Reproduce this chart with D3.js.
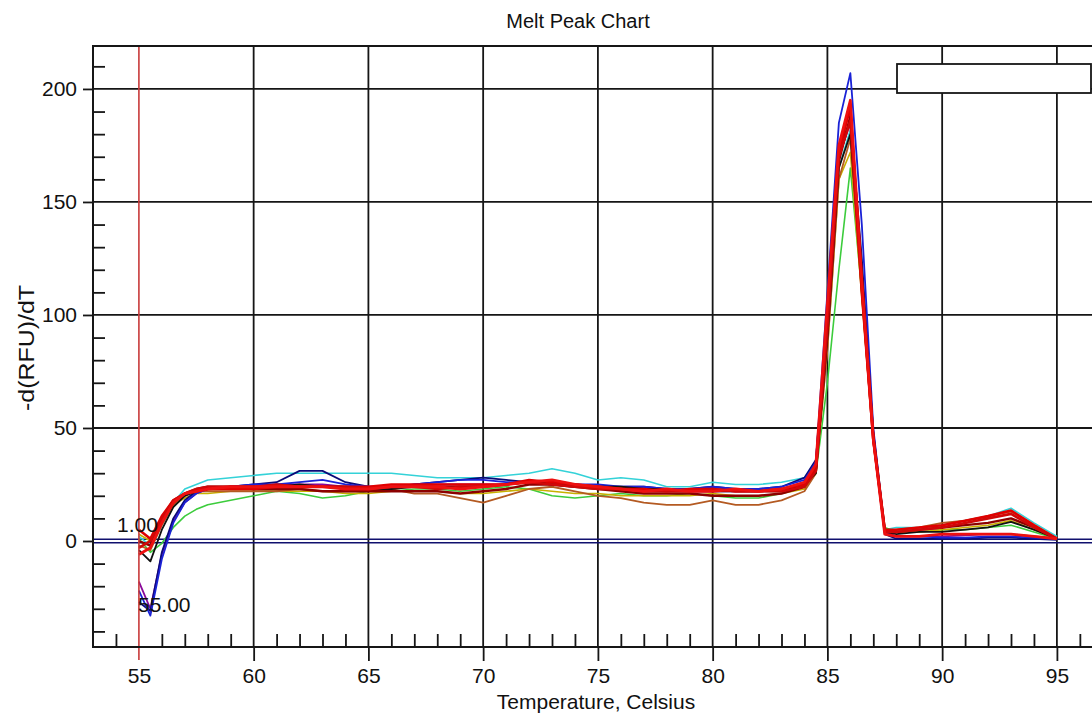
<!DOCTYPE html>
<html><head><meta charset="utf-8">
<script src="https://cdn.jsdelivr.net/npm/d3@7"></script>
<style>
html,body{margin:0;padding:0;background:#fff;}
svg{display:block;}
text{font-family:"Liberation Sans",Arial,sans-serif;fill:#111;}
</style></head><body>
<svg id="chart" width="1092" height="713"></svg>
<script>
// ---------- DATA ----------
const temps = [55,55.5,56,56.5,57,57.5,58,59,60,61,62,63,64,65,66,67,68,69,70,71,72,73,74,75,76,77,78,79,80,81,82,83,84,84.5,85,85.5,86,86.5,87,87.5,88,89,90,91,92,93,94,95];

const cyanVals   = [2,-2,8,17,23,25,27,28,29,30,30,30,30,30,30,29,28,28,28,29,30,32,30,27,28,27,24,24,26,25,25,26,28,35,95,165,182,118,45,5,6,6,7,9,11,14.5,8,2];
const greenVals  = [1,-5,-1,6,11,14,16,18,20,22,21,19,20,22,22,23,23,22,23,24,23,20,19,20,21,20,20,21,20,19,19,21,24,30,70,120,165,110,45,6,4,4,5,5,6,7,4,1];
const oliveVals  = [3,0,9,16,19,21,21,22,22,22,22,22,21,21,22,22,22,21,21,22,23,22,21,21,20,20,20,20,21,20,20,21,23,30,85,160,172,108,44,5,4,4,5,6,7,9,5,1];
const brownVals  = [-2,-4,7,16,20,22,22,22,22,22,23,22,22,22,23,21,21,19,17,20,23,24,22,20,19,17,16,16,18,16,16,18,22,30,85,160,178,110,44,4,5,6,8,9,11,13,7,1];
const purpleVals = [-18,-30,-6,9,17,21,23,24,24,25,25,25,24,24,24,24,25,25,25,25,26,26,25,24,23,23,23,22,22,22,22,23,26,33,95,170,185,118,48,4,2,2,2,2.5,3,3,2,1];
const navyVals   = [-27,-31,-5,10,18,22,23,24,25,26,31,31,26,24,23.5,25,26,27,28,27,26,25,24,24,24,24,23,23,24,23,23,24,28,36,100,175,185,125,45,3,1,1,1,1,1.5,1.5,1,0.5];
const blueVals   = [-22,-33,-8,8,17,21,23,24,25,25,26,27,25,24,24,25,26,27,27,26,26,25,25,25,24,24,23,23,24,23,23,24,27,35,110,185,207,140,50,4,2,2,1.5,1.5,2,2,1.5,1];
const blackVals  = [-4,-9,5,15,20,22,23,24,24,24,25,24,24,23,23,24,24,24,24,25,26,26,25,24,24,23,23,22,22,22,22,22,25,30,90,165,180,115,45,4,3,4,4,5,6,8.5,5,1];
const maroonVals = [0,-2,9,17,21,23,24,24,23,23,23,22,22,22,22,22,22,21,22,23,25,25,24,23,22,21,21,21,20,20,20,21,24,32,92,168,188,118,47,5,4,5,6,7,8,10,6,1];
const red1Vals   = [5,1,11,18,21,22,23,23,23,24,24,24,24,24,25,25,25,25,25,25,27,26,25,24,23,23,22,23,23,22,22,23,25,33,100,172,192,112,45,5,5,6,7,9,11,13.5,7,1];
const red2Vals   = [-3,0,10,18,21,23,24,24,24,25,24,24,24,23,24,24,23,24,24,25,26,25,24,23,23,22,22,22,23,22,22,22,24,31,95,170,186,110,45,4,4,5,6,8,10,12,6,1];
const red3Vals   = [-6,-3,8,17,21,22,23,24,24,24,24,24,23,23,24,24,24,23,24,25,26,27,25,24,23,22,23,22,22,23,22,23,26,34,105,175,195,115,45,3,2,2,3,3,3,3,2,1];

const xMajorTicks = [55,60,65,70,75,80,85,90,95];
const xMinorTicks = [54,56,57,58,59,61,62,63,64,66,67,68,69,71,72,73,74,76,77,78,79,81,82,83,84,86,87,88,89,91,92,93,94,96];
const yMajorTicks = [0,50,100,150,200];
const yMinorTicks = [-40,-30,-20,-10,10,20,30,40,60,70,80,90,110,120,130,140,160,170,180,190,210];
const cursorTemp = 55;
const thresholdLabel = "1.00";
const cursorLabel = "55.00";

// ---------- STYLE / LAYOUT ----------
const seriesList = [
  {v: cyanVals,   c: "#34d2d8", w: 1.6},
  {v: greenVals,  c: "#3ccc3c", w: 1.6},
  {v: oliveVals,  c: "#c8b000", w: 1.6},
  {v: brownVals,  c: "#b45a22", w: 1.8},
  {v: purpleVals, c: "#8a0a9a", w: 1.8},
  {v: navyVals,   c: "#0a0a78", w: 1.8},
  {v: blueVals,   c: "#1a22d6", w: 1.8},
  {v: blackVals,  c: "#111111", w: 1.8},
  {v: maroonVals, c: "#8c0000", w: 2.4},
  {v: red1Vals,   c: "#e00000", w: 2.6},
  {v: red2Vals,   c: "#d00808", w: 2.6},
  {v: red3Vals,   c: "#ee1010", w: 2.8}
];

const L = 93, T = 46, R = 1095, B = 647;
const svg = d3.select("#chart");
const x = d3.scaleLinear().domain([53, 96.66]).range([L, R]);
const y = d3.scaleLinear().domain([-46.9, 219]).range([B, T]);
const FONT = 21;

svg.append("rect").attr("width",1092).attr("height",713).attr("fill","#fff");

svg.append("defs").append("clipPath").attr("id","clip")
  .append("rect").attr("x",L).attr("y",T).attr("width",R-L).attr("height",B-T);

// grid
const grid = svg.append("g").attr("stroke","#161616").attr("stroke-width",1.8);
grid.selectAll("line.gx").data(xMajorTicks.filter(d=>d!==cursorTemp)).join("line")
  .attr("x1",d=>x(d)).attr("x2",d=>x(d)).attr("y1",T).attr("y2",B);
grid.selectAll("line.gy").data(yMajorTicks.filter(d=>d!==0)).join("line")
  .attr("x1",L).attr("x2",R).attr("y1",d=>y(d)).attr("y2",d=>y(d));

// zero / threshold double line
svg.append("g").selectAll("line").data([-1.7,1.7]).join("line")
  .attr("x1",L).attr("x2",R)
  .attr("y1",d=>y(0)+d).attr("y2",d=>y(0)+d)
  .attr("stroke","#10106e").attr("stroke-width",1.5);

// series
const line = d3.line().x((d,i)=>x(temps[i])).y(d=>y(d));
svg.append("g").attr("clip-path","url(#clip)")
  .selectAll("path").data(seriesList).join("path")
  .attr("d",d=>line(d.v))
  .attr("fill","none").attr("stroke",d=>d.c).attr("stroke-width",d=>d.w)
  .attr("stroke-linejoin","round");

// cursor line
svg.append("line").attr("x1",x(cursorTemp)).attr("x2",x(cursorTemp))
  .attr("y1",T).attr("y2",B+13).attr("stroke","#c83a3a").attr("stroke-width",1.6);

// axes
const xAxis = d3.axisBottom(x).tickValues(xMajorTicks).tickSizeInner(14).tickSizeOuter(0).tickPadding(7).tickFormat(d3.format("d"));
const gx = svg.append("g").attr("transform",`translate(0,${B})`).call(xAxis);
const xMinor = d3.axisBottom(x).tickValues(xMinorTicks).tickSizeInner(-13).tickSizeOuter(0).tickFormat("");
const gxm = svg.append("g").attr("transform",`translate(0,${B})`).call(xMinor);

const yAxis = d3.axisLeft(y).tickValues(yMajorTicks).tickSizeInner(10).tickSizeOuter(0).tickPadding(6).tickFormat(d3.format("d"));
const gy = svg.append("g").attr("transform",`translate(${L},0)`).call(yAxis);
const yMinor = d3.axisLeft(y).tickValues(yMinorTicks).tickSizeInner(-12).tickSizeOuter(0).tickFormat("");
const gym = svg.append("g").attr("transform",`translate(${L},0)`).call(yMinor);

[gx,gxm,gy,gym].forEach(g=>{
  g.select(".domain").remove();
  g.selectAll(".tick line").attr("stroke","#161616").attr("stroke-width",1.8);
  g.selectAll("text").attr("font-size",FONT).attr("font-family",'"Liberation Sans",Arial,sans-serif').attr("fill","#1a1a1a");
});
gx.selectAll(".tick").filter(d=>d===cursorTemp).select("line").attr("stroke","none");

// plot frame (top, left, bottom)
svg.append("path")
  .attr("d",`M${R},${T}H${L}V${B}H${R}`)
  .attr("fill","none").attr("stroke","#161616").attr("stroke-width",2);

// legend box (empty)
svg.append("rect").attr("x",897).attr("y",64).attr("width",194).attr("height",29)
  .attr("fill","#fff").attr("stroke","#161616").attr("stroke-width",1.8);

// annotations
svg.append("text").attr("x",117).attr("y",532).attr("font-size",FONT).text(thresholdLabel);
svg.append("text").attr("x",138).attr("y",612).attr("font-size",FONT).text(cursorLabel);

// titles
svg.append("text").attr("x",578).attr("y",28).attr("text-anchor","middle")
  .attr("font-size",20).text("Melt Peak Chart");
svg.append("text").attr("x",596).attr("y",709).attr("text-anchor","middle")
  .attr("font-size",FONT).text("Temperature, Celsius");
svg.append("text").attr("transform","translate(34,348) rotate(-90)")
  .attr("text-anchor","middle").attr("font-size",22)
  .attr("textLength",126).attr("lengthAdjust","spacingAndGlyphs")
  .text("-d(RFU)/dT");
</script>
</body></html>
